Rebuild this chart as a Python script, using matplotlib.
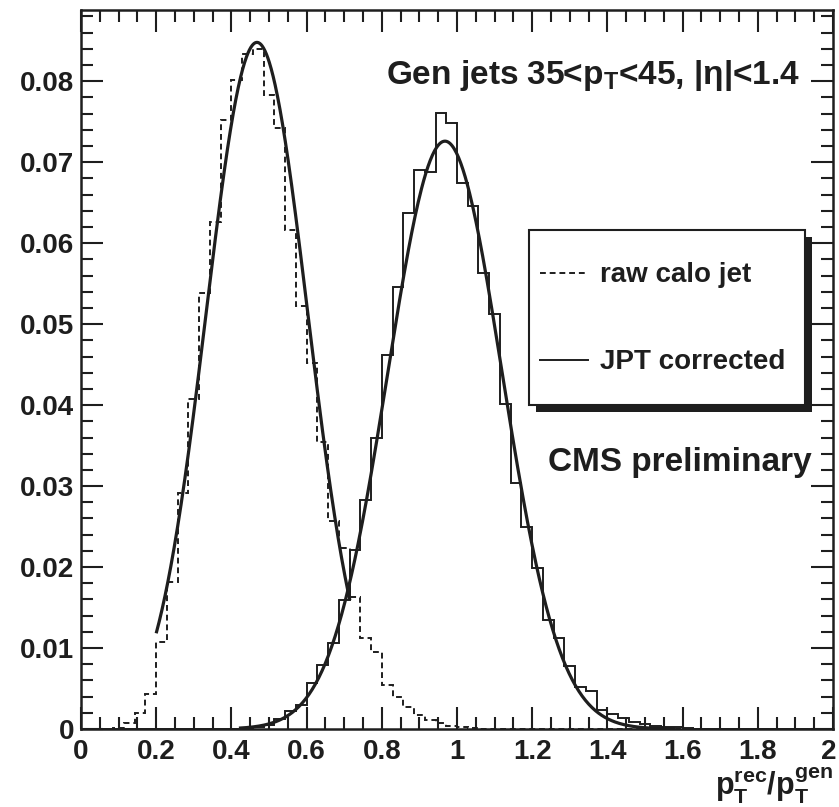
import numpy as np
import matplotlib
matplotlib.use("Agg")
import matplotlib.pyplot as plt
from matplotlib.ticker import MultipleLocator, FuncFormatter
from matplotlib.patches import Rectangle
from matplotlib.lines import Line2D

# ---- histogram binning ----------------------------------------------------
bin_lo, bin_hi, n_bins = 0.0, 2.0, 70

# normalised bin contents, raw calorimeter jets (70 bins on 0..2)
raw_calo = [
    0, 0, 0, 0.0001, 0.0007, 0.0020, 0.0043, 0.0107, 0.0182, 0.0291,
    0.0408, 0.0538, 0.0626, 0.0752, 0.0801, 0.0834, 0.0840, 0.0783, 0.0742, 0.0616,
    0.0523, 0.0452, 0.0354, 0.0257, 0.0224, 0.0163, 0.0112, 0.0095, 0.0054, 0.0040,
    0.0027, 0.0017, 0.0011, 0.0007, 0.0004, 0.0002, 0.0001, 0, 0, 0,
    0, 0, 0, 0, 0, 0, 0, 0, 0, 0,
    0, 0, 0, 0, 0, 0, 0, 0, 0, 0,
    0, 0, 0, 0, 0, 0, 0, 0, 0, 0,
]

# normalised bin contents, JPT corrected jets
jpt_corrected = [
    0, 0, 0, 0, 0, 0, 0, 0, 0, 0,
    0, 0, 0, 0, 0, 0.0001, 0.0002, 0.0005, 0.0012, 0.0022,
    0.0030, 0.0057, 0.0079, 0.0106, 0.0159, 0.0221, 0.0283, 0.0360, 0.0462, 0.0546,
    0.0637, 0.0690, 0.0688, 0.0761, 0.0749, 0.0674, 0.0646, 0.0563, 0.0513, 0.0402,
    0.0304, 0.0249, 0.0199, 0.0135, 0.0112, 0.0078, 0.0052, 0.0047, 0.0024, 0.0019,
    0.0013, 0.0009, 0.0006, 0.0004, 0.0003, 0.0002, 0.0001, 0, 0, 0,
    0, 0, 0, 0, 0, 0, 0, 0, 0, 0,
]

# Gaussian fit results: amplitude, mean, sigma and fit range
raw_fit = {"amp": 0.0848, "mean": 0.468, "sigma": 0.135, "lo": 0.20, "hi": 0.715}
jpt_fit = {"amp": 0.0726, "mean": 0.968, "sigma": 0.152, "lo": 0.42, "hi": 1.58}

legend_labels = ["raw calo jet", "JPT corrected"]
selection_text = r"Gen jets 35<p$_\mathrm{T}$<45, |η|<1.4"
status_text = "CMS preliminary"
x_title = r"p$_\mathrm{T}^\mathrm{rec}$/p$_\mathrm{T}^\mathrm{gen}$"

x_range = (0.0, 2.0)
y_range = (0.0, 0.0888)

# ---- style ---------------------------------------------------------------
INK = "#1e1e1e"
plt.rcParams["font.family"] = ["Liberation Sans", "DejaVu Sans"]
plt.rcParams["font.weight"] = "bold"
plt.rcParams["mathtext.fontset"] = "custom"
plt.rcParams["mathtext.rm"] = "Liberation Sans:bold"
plt.rcParams["mathtext.it"] = "Liberation Sans:bold"
plt.rcParams["mathtext.bf"] = "Liberation Sans:bold"
plt.rcParams["mathtext.sf"] = "Liberation Sans:bold"

W, H = 839, 807


def fx(px):
    return px / W


def fy(py):
    return 1 - py / H


fig = plt.figure(figsize=(W / 100, H / 100), dpi=100)
fig.patch.set_facecolor("white")
ax = fig.add_axes([fx(81), fy(729), (833 - 81) / W, (729 - 10) / H])

edges = np.linspace(bin_lo, bin_hi, n_bins + 1)
dash = (0, (3, 2))
ax.stairs(raw_calo, edges, color=INK, lw=1.4, linestyle=dash)
ax.stairs(jpt_corrected, edges, color=INK, lw=1.4)

for fit in (raw_fit, jpt_fit):
    xs = np.linspace(fit["lo"], fit["hi"], 400)
    ys = fit["amp"] * np.exp(-0.5 * ((xs - fit["mean"]) / fit["sigma"]) ** 2)
    ax.plot(xs, ys, color=INK, lw=2.3, solid_capstyle="butt")

ax.set_xlim(*x_range)
ax.set_ylim(*y_range)


def tick_text(v):
    return f"{round(v, 4):g}"


ax.xaxis.set_major_locator(MultipleLocator(0.2))
ax.xaxis.set_minor_locator(MultipleLocator(0.05))
ax.yaxis.set_major_locator(MultipleLocator(0.01))
ax.yaxis.set_minor_locator(MultipleLocator(0.002))
# the label at the right end of the x axis is placed separately below
ax.xaxis.set_major_formatter(
    FuncFormatter(lambda v, p: "" if abs(v - x_range[1]) < 1e-9 else tick_text(v)))
ax.yaxis.set_major_formatter(FuncFormatter(lambda v, p: tick_text(v)))

ax.tick_params(which="both", direction="in", top=True, right=True,
               color=INK, width=1.5, labelsize=20, labelcolor=INK)
ax.tick_params(which="major", length=15.5)
ax.tick_params(which="minor", length=8.5)
ax.tick_params(axis="x", pad=7)
ax.tick_params(axis="y", pad=5)
for sp in ax.spines.values():
    sp.set_linewidth(1.8)
    sp.set_color(INK)

# end-of-axis label, nudged left so it stays inside the canvas
ax.annotate(tick_text(x_range[1]), xy=(x_range[1], 0),
            xycoords=("data", "axes fraction"), xytext=(-3, -7),
            textcoords="offset points", ha="center", va="top",
            fontsize=20, color=INK, fontweight="bold", annotation_clip=False)

# ---- annotations ------------------------------------------------------------
fig.text(fx(800), fy(84), selection_text, ha="right", va="baseline",
         fontsize=24, color=INK, fontweight="bold")
fig.text(fx(548), fy(471), status_text, ha="left", va="baseline",
         fontsize=24, color=INK, fontweight="bold")
fig.text(fx(833), fy(795), x_title, ha="right", va="baseline",
         fontsize=22, color=INK, fontweight="bold")

# ---- legend box with drop shadow ---------------------------------------------
bx0, by0, bx1, by1 = 529, 230, 805, 405
shadow = Rectangle((fx(bx0 + 7), fy(by1 + 7)), (bx1 - bx0) / W, (by1 - by0) / H,
                   transform=fig.transFigure, facecolor=INK, edgecolor="none")
box = Rectangle((fx(bx0), fy(by1)), (bx1 - bx0) / W, (by1 - by0) / H,
                transform=fig.transFigure, facecolor="white", edgecolor=INK, lw=1.5)
fig.add_artist(shadow)
fig.add_artist(box)

entry_rows = [273, 360]
entry_styles = [dash, "-"]
for row, style, label in zip(entry_rows, entry_styles, legend_labels):
    fig.add_artist(Line2D([fx(540), fx(588)], [fy(row), fy(row)],
                          transform=fig.transFigure, color=INK, lw=1.4,
                          linestyle=style))
    fig.text(fx(600), fy(row + 9), label, ha="left", va="baseline",
             fontsize=20, color=INK, fontweight="bold")

fig.savefig("out.png", dpi=100, facecolor="white")
